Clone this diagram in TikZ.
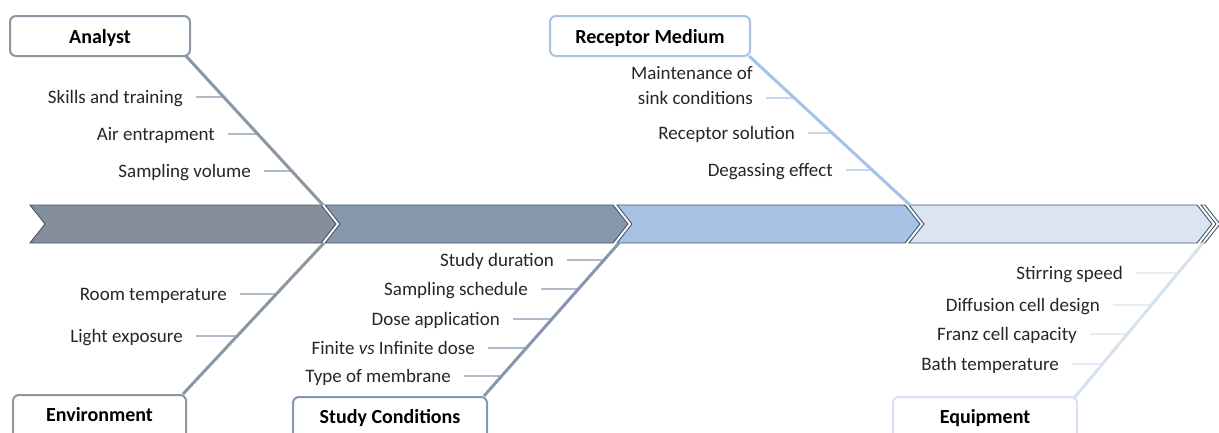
\documentclass[tikz,border=0pt]{standalone}
\usepackage{fontspec}
\setmainfont{Carlito}
\usetikzlibrary{calc}
\definecolor{segA}{HTML}{858F9C}
\definecolor{segB}{HTML}{8798AE}
\definecolor{segC}{HTML}{A8C2E6}
\definecolor{segD}{HTML}{DBE5F2}
\definecolor{rim}{HTML}{44546A}
\definecolor{boneA}{HTML}{8C97A4}
\definecolor{boneB}{HTML}{8497AF}
\definecolor{boneC}{HTML}{A7C2E7}
\definecolor{boneD}{HTML}{D6E2F1}
\tikzset{
  seg/.style={draw=rim, line width=0.9pt, line join=miter},
  catbox/.style={draw=#1, line width=2pt, rounded corners=6pt, fill=white,
    inner sep=0pt, minimum width=180pt, font=\fontsize{20}{24}\selectfont\bfseries},
  topbox/.style={anchor=north, text height=27.5pt, text depth=12.5pt},
  botbox/.style={anchor=north, text height=26pt, text depth=18pt},
  bone/.style={draw=#1, line width=3pt},
  tick/.style={draw=#1, line width=1.3pt},
  cause/.style={font=\fontsize{19}{25}\selectfont, inner sep=0pt, anchor=base east, text=black!85}
}
\begin{document}
\begin{tikzpicture}[x=1pt, y=-1pt]
\useasboundingbox (0,0) rectangle (1219,432);

% spine made of chevrons
\draw[seg, fill=segA] (30,205) -- (321,205) -- (336,224) -- (321,243) -- (30,243) -- (45,224) -- cycle;
\draw[seg, fill=segB] (325,205) -- (613,205) -- (628,224) -- (613,243) -- (325,243) -- (340,224) -- cycle;
\draw[seg, fill=segC] (617,205) -- (905,205) -- (920,224) -- (905,243) -- (617,243) -- (632,224) -- cycle;
\draw[seg, fill=segD] (909,205) -- (1197,205) -- (1212,224) -- (1197,243) -- (909,243) -- (924,224) -- cycle;
\draw[seg, fill=white] (1201,205) -- (1205,205) -- (1220,224) -- (1205,243) -- (1201,243) -- (1216,224) -- cycle;

% bone end points
\coordinate (a0) at (186,56);   \coordinate (a1) at (323,205);
\coordinate (e0) at (183,394);  \coordinate (e1) at (324,243);
\coordinate (s0) at (484,396);  \coordinate (s1) at (619,243);
\coordinate (r0) at (749,56);   \coordinate (r1) at (910,205);
\coordinate (q0) at (1075,397); \coordinate (q1) at (1203,243);

% Analyst causes
\foreach \t/\x/\y/\f [count=\i] in {Skills and training/196/97/0.275,
    Air entrapment/228/134/0.523, Sampling volume/264/171/0.772} {
  \node[cause] (an\i) at (\x-13,\y+6) {\t};
  \draw[tick=boneB] ([shift={(13pt,6pt)}]an\i.base east) -- ($(a0)!\f!(a1)$);
}
% Environment causes
\foreach \t/\x/\y/\f [count=\i] in {Room temperature/240/294/0.662,
    Light exposure/196/336/0.384} {
  \node[cause] (en\i) at (\x-13,\y+6) {\t};
  \draw[tick=boneB] ([shift={(13pt,6pt)}]en\i.base east) -- ($(e0)!\f!(e1)$);
}
% Study conditions causes
\foreach \t/\x/\y/\f [count=\i] in {Study duration/567/260/0.889,
    Sampling schedule/541/289/0.699, Dose application/513/319/0.503,
    {Finite \textit{vs} Infinite dose}/488/348/0.314, Type of membrane/464/376/0.131} {
  \node[cause] (sc\i) at (\x-13,\y+6) {\t};
  \draw[tick=boneB] ([shift={(13pt,6pt)}]sc\i.base east) -- ($(s0)!\f!(s1)$);
}
% Receptor medium causes
\node[cause, align=right] (rm1) at (753,104) {Maintenance of\\sink conditions};
\draw[tick=boneC] ([shift={(13pt,6pt)}]rm1.base east) -- ($(r0)!0.282!(r1)$);
\foreach \t/\x/\y/\f [count=\i from 2] in {Receptor solution/808/133/0.517,
    Degassing effect/846/170/0.765} {
  \node[cause] (rm\i) at (\x-13,\y+6) {\t};
  \draw[tick=boneC] ([shift={(13pt,6pt)}]rm\i.base east) -- ($(r0)!\f!(r1)$);
}
% Equipment causes
\foreach \t/\x/\y/\f [count=\i] in {Stirring speed/1136/273/0.805,
    Diffusion cell design/1113/305/0.597, Franz cell capacity/1090/334/0.409,
    Bath temperature/1072/364/0.214} {
  \node[cause] (eq\i) at (\x-13,\y+6) {\t};
  \draw[tick=boneD] ([shift={(13pt,6pt)}]eq\i.base east) -- ($(q0)!\f!(q1)$);
}

% bones
\draw[bone=boneA] (a0) -- (a1);
\draw[bone=boneA] (e0) -- (e1);
\draw[bone=boneB] (s0) -- (s1);
\draw[bone=boneC] (r0) -- (r1);
\draw[bone=boneD] (q0) -- (q1);

% category boxes
\node[catbox=boneA, topbox] (analyst) at (100,15) {Analyst};
\node[catbox=boneC, topbox, minimum width=200pt] (receptor) at (650,15) {Receptor Medium};
\node[catbox=boneA, botbox, minimum width=173pt] (environment) at (99.5,394) {Environment};
\node[catbox=boneB, botbox, minimum width=194pt] (study) at (390,396) {Study Conditions};
\node[catbox=boneD, botbox, minimum width=184pt] (equipment) at (985,396) {Equipment};
\end{tikzpicture}
\end{document}
